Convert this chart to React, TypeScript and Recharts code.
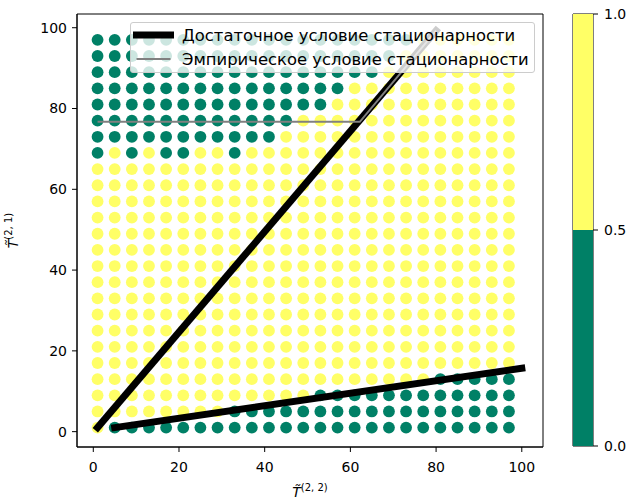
import React from "react";
import {
  ScatterChart,
  Scatter,
  XAxis,
  YAxis,
  ReferenceArea,
  Legend,
  BarChart,
  Bar,
} from "recharts";

// сетка параметров T~(2,2) по оси x и T~(2,1) по оси y
const gridX = [1, 5, 9, 13, 17, 21, 25, 29, 33, 37, 41, 45, 49, 53, 57, 61, 65, 69, 73, 77, 81, 85, 89, 93, 97];
const gridY = [97, 93, 89, 85, 81, 77, 73, 69, 65, 61, 57, 53, 49, 45, 41, 37, 33, 29, 25, 21, 17, 13, 9, 5, 1];

// 0 = нестационарно, 1 = стационарно; строки сверху вниз (как gridY), столбцы как gridX
const stateRows = [
  "00000 00000 00000 00001 11111", // 97
  "00000 00000 00000 00011 11111", // 93
  "00000 00000 00000 00111 11111", // 89
  "00000 00000 00000 11111 11111", // 85
  "00000 00000 00001 11111 11111", // 81
  "00000 00000 00111 11111 11111", // 77
  "00000 00000 01111 11111 11111", // 73
  "01010 01101 11111 11111 11111", // 69
  "11111 11111 11111 11111 11111", // 65
  "11111 11111 11111 11111 11111", // 61
  "11111 11111 11111 11111 11111", // 57
  "11111 11111 11111 11111 11111", // 53
  "11111 11111 11111 11111 11111", // 49
  "11111 11111 11111 11111 11111", // 45
  "11111 11111 11111 11111 11111", // 41
  "11111 11111 11111 11111 11111", // 37
  "11111 11111 11111 11111 11111", // 33
  "11111 11111 11111 11111 11111", // 29
  "11111 11111 11111 11111 11111", // 25
  "11111 11111 11111 11111 11111", // 21
  "11111 11111 11111 11111 11111", // 17
  "11111 11111 11111 11111 00000", // 13
  "11111 11111 11100 00000 00000", // 9
  "11111 11100 00000 00000 00000", // 5
  "10000 00000 00000 00000 00000", // 1
];

// границы
const sufficientUpper = [
  { x: 1, y: 1 },
  { x: 80, y: 99.3 },
];
const sufficientLower = [
  { x: 5, y: 1 },
  { x: 100, y: 15.7 },
];
const empiricalBound = [
  { x: 1, y: 76.7 },
  { x: 62.2, y: 76.7 },
  { x: 80, y: 99.3 },
];

const axisTicks = [0, 20, 40, 60, 80, 100];
const colorbarTicks = [0, 0.5, 1];
const colorbarData = [{ name: "cb", low: 0.5, high: 0.5 }];

const legendItems = [
  { label: "Достаточное условие стационарности", color: "#000000", width: 7, cap: "square" },
  { label: "Эмпирическое условие стационарности", color: "#808080", width: 2, cap: "butt" },
];

const GREEN = "#008066";
const YELLOW = "#ffff66";

const points = gridY.flatMap((y, i) => {
  const row = stateRows[i].replace(/ /g, "");
  return gridX.map((x, j) => ({ x, y, state: Number(row[j]) }));
});

const tickStyle = { fill: "#000", fontSize: 14, fontFamily: "DejaVu Sans" };

const Dot = (props: any) => (
  <circle cx={props.cx} cy={props.cy} r={5.9} fill={props.payload.state ? YELLOW : GREEN} />
);

const NoDot = () => <g />;

const LegendBox = () => (
  <div
    style={{
      width: 405,
      height: 51,
      boxSizing: "border-box",
      border: "1px solid #cccccc",
      borderRadius: 3,
      background: "rgba(255,255,255,0.8)",
      fontFamily: "DejaVu Sans",
      fontSize: 16.4,
      color: "#000",
    }}
  >
    {legendItems.map((item) => (
      <div key={item.label} style={{ display: "flex", alignItems: "center", height: 24 }}>
        <svg width={45} height={12} style={{ display: "block" }}>
          <line
            x1={5.5}
            x2={39.5}
            y1={6}
            y2={6}
            stroke={item.color}
            strokeWidth={item.width}
            strokeLinecap={item.cap as any}
          />
        </svg>
        <span style={{ marginLeft: 6, whiteSpace: "nowrap" }}>{item.label}</span>
      </div>
    ))}
  </div>
);

const XLabel = (props: any) => {
  const vb = props.viewBox;
  const cx = vb.x + vb.width / 2;
  return (
    <text x={cx} y={497} textAnchor="middle" fontSize={14} fontFamily="DejaVu Sans" fill="#000">
      <tspan fontStyle="italic">{"T\u0303"}</tspan>
      <tspan fontSize={10} dy={-6}>(2, 2)</tspan>
    </text>
  );
};

const YLabel = (props: any) => {
  const vb = props.viewBox;
  const cx = 18;
  const cy = vb.y + vb.height / 2;
  return (
    <text
      x={cx}
      y={cy}
      transform={`rotate(-90 ${cx} ${cy})`}
      textAnchor="middle"
      fontSize={14}
      fontFamily="DejaVu Sans"
      fill="#000"
    >
      <tspan fontStyle="italic">{"T\u0303"}</tspan>
      <tspan fontSize={10} dy={-6}>(2, 1)</tspan>
    </text>
  );
};

export default function App() {
  return (
    <div
      style={{
        position: "absolute",
        left: 0,
        top: 0,
        width: 632,
        height: 500,
        background: "#fff",
        fontFamily: "DejaVu Sans",
      }}
    >
      <ScatterChart width={632} height={500} margin={{ top: 14, right: 89, bottom: 0, left: 0 }}>
        <XAxis
          type="number"
          dataKey="x"
          domain={[-3.8, 104.95]}
          ticks={axisTicks}
          allowDataOverflow
          height={53}
          tickSize={5}
          tickMargin={10}
          tick={tickStyle}
          axisLine={{ stroke: "#000" }}
          tickLine={{ stroke: "#000" }}
          label={<XLabel />}
        />
        <YAxis
          type="number"
          dataKey="y"
          domain={[-3.8, 103.4]}
          ticks={axisTicks}
          allowDataOverflow
          width={77}
          tickSize={5}
          tickMargin={5}
          tick={tickStyle}
          axisLine={{ stroke: "#000" }}
          tickLine={{ stroke: "#000" }}
          label={<YLabel />}
        />
        <ReferenceArea
          y1={-3.8}
          y2={103.4}
          x1={-3.8}
          x2={104.95}
          fill="none"
          fillOpacity={0}
          stroke="#000"
          strokeWidth={1}
        />
        <Scatter data={points} shape={<Dot />} isAnimationActive={false} />
        <Scatter
          data={sufficientUpper}
          shape={<NoDot />}
          line={{ stroke: "#000", strokeWidth: 7, strokeLinecap: "square" } as any}
          isAnimationActive={false}
        />
        <Scatter
          data={sufficientLower}
          shape={<NoDot />}
          line={{ stroke: "#000", strokeWidth: 7, strokeLinecap: "square" } as any}
          isAnimationActive={false}
        />
        <Scatter
          data={empiricalBound}
          shape={<NoDot />}
          line={{ stroke: "#808080", strokeWidth: 2 } as any}
          isAnimationActive={false}
        />
        <Legend
          layout="horizontal"
          verticalAlign="middle"
          align="center"
          content={<LegendBox />}
          wrapperStyle={{ top: 22, left: 130, width: 405, height: 51 }}
        />
      </ScatterChart>

      <div style={{ position: "absolute", left: 560, top: 0 }}>
        <BarChart
          width={72}
          height={500}
          data={colorbarData}
          barCategoryGap={0}
          margin={{ top: 14, right: 0, bottom: 54, left: 13 }}
        >
          <XAxis dataKey="name" hide />
          <YAxis
            orientation="right"
            type="number"
            domain={[0, 1]}
            ticks={colorbarTicks}
            width={39}
            tickSize={5}
            tickMargin={6}
            tick={tickStyle}
            axisLine={false}
            tickLine={{ stroke: "#000" }}
            tickFormatter={(v: number) => v.toFixed(1)}
          />
          <Bar dataKey="low" stackId="c" fill={GREEN} isAnimationActive={false} />
          <Bar dataKey="high" stackId="c" fill={YELLOW} isAnimationActive={false} />
          <ReferenceArea y1={0} y2={1} fill="none" fillOpacity={0} stroke="#000" strokeWidth={1} />
        </BarChart>
      </div>
    </div>
  );
}
